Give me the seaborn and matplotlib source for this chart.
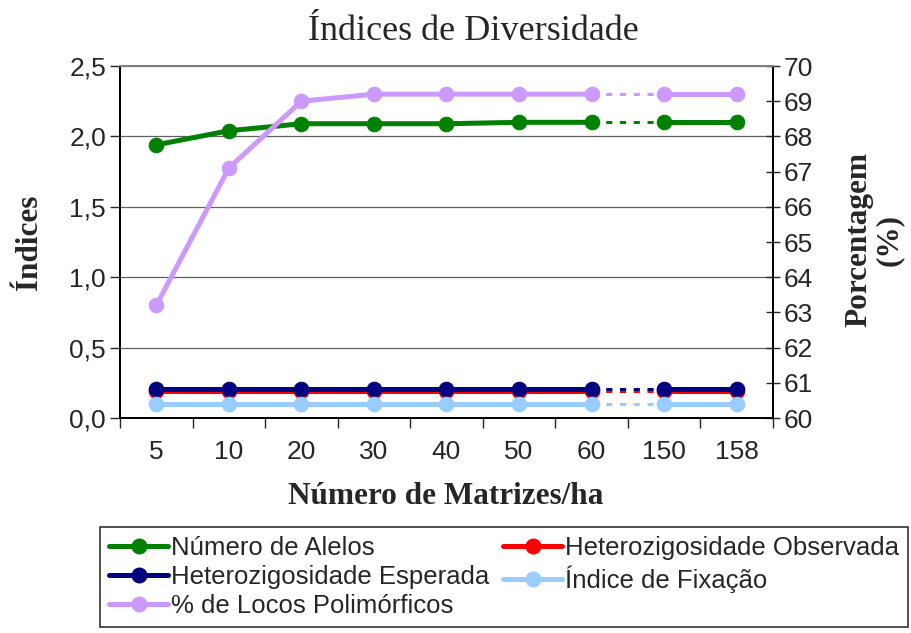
import numpy as np
import pandas as pd
import matplotlib
matplotlib.use("Agg")
import matplotlib.pyplot as plt
from matplotlib.lines import Line2D
from matplotlib.ticker import FuncFormatter, FixedLocator
import seaborn as sns

# ==========================================================
# DATA
# ==========================================================

categories = ["5", "10", "20", "30", "40", "50", "60", "150", "158"]

num_alelos = [1.94, 2.04, 2.09, 2.09, 2.09, 2.10, 2.10, 2.10, 2.10]
het_observada = [0.195, 0.195, 0.195, 0.195, 0.195, 0.195, 0.195, 0.195, 0.195]
het_esperada = [0.205, 0.205, 0.205, 0.205, 0.205, 0.205, 0.205, 0.205, 0.205]
indice_fixacao = [0.10, 0.10, 0.10, 0.10, 0.10, 0.10, 0.10, 0.10, 0.10]
locos_polimorficos = [63.2, 67.1, 69.0, 69.2, 69.2, 69.2, 69.2, 69.2, 69.2]

series_names = [
    "Número de Alelos",
    "Heterozigosidade Observada",
    "Heterozigosidade Esperada",
    "Índice de Fixação",
    "% de Locos Polimórficos",
]
series_colors = ["#008000", "#FF0000", "#000080", "#99CCFF", "#CC99FF"]

# break between "60" and "150" drawn dotted
gap_after = 6

# ==========================================================
# FIGURE
# ==========================================================

sns.set_style("white")
plt.rcParams["font.family"] = ["Liberation Sans", "DejaVu Sans"]
serif = ["Liberation Serif", "DejaVu Serif"]

fig = plt.figure(figsize=(9.11, 6.33), dpi=100)
ax = fig.add_axes([120 / 911, 1 - 418 / 633, 653 / 911, 352 / 633])
ax2 = ax.twinx()

pos = np.arange(len(categories))


def draw_series(axis, values, color):
    df = pd.DataFrame({"pos": pos, "val": values})
    first = df.iloc[: gap_after + 1]
    second = df.iloc[gap_after + 1:]
    bridge = df.iloc[gap_after: gap_after + 2]
    for part in [first, second]:
        sns.lineplot(
            data=part, x="pos", y="val", ax=axis, color=color,
            linewidth=3.6, marker="o", markersize=10.5,
            markeredgecolor=color, estimator=None, legend=False,
        )
    sns.lineplot(
        data=bridge, x="pos", y="val", ax=axis, color=color,
        linewidth=2.2, linestyle=(0, (2, 2.5)), estimator=None, legend=False,
    )


left_series = [num_alelos, het_observada, het_esperada, indice_fixacao]
for vals, col in zip(left_series, series_colors[:4]):
    draw_series(ax, vals, col)

draw_series(ax2, locos_polimorficos, series_colors[4])

# ==========================================================
# AXES
# ==========================================================

ax.set_xlim(-0.5, len(categories) - 0.5)
ax.set_ylim(0, 2.5)
ax2.set_ylim(60, 70)

ax.set_yticks(np.arange(0, 2.51, 0.5))
ax.yaxis.set_major_formatter(FuncFormatter(lambda v, p: f"{v:.1f}".replace(".", ",")))
ax2.set_yticks(np.arange(60, 71, 1))

ax.set_xticks(pos)
ax.set_xticklabels(categories)
ax.xaxis.set_minor_locator(FixedLocator(np.arange(-0.5, len(categories), 1)))
ax.tick_params(axis="x", which="major", length=0, labelsize=19, pad=16)
ax.tick_params(axis="x", which="minor", length=7, width=1, direction="out", bottom=True)
ax.tick_params(axis="y", length=7, width=1, direction="out", left=True, labelsize=19, pad=3)
ax2.tick_params(axis="y", length=10, width=1, direction="inout", right=True, labelsize=19, pad=3)

ax.grid(axis="y", color="#606060", linewidth=0.9)
ax.grid(axis="x", visible=False)
ax2.grid(False)

for a in [ax, ax2]:
    for sp in a.spines.values():
        sp.set_color("black")
        sp.set_linewidth(1.4)
ax.spines["top"].set_color("#808080")
ax2.spines["top"].set_color("#808080")

ax.set_xlabel("")
ax.set_ylabel("")
ax2.set_xlabel("")
ax2.set_ylabel("")

fig.text(473 / 911, 1 - 32 / 633, "Índices de Diversidade", ha="center", va="center",
         fontsize=26, family=serif)
fig.text(446 / 911, 1 - 497 / 633, "Número de Matrizes/ha", ha="center", va="center",
         fontsize=22.5, fontweight="bold", family=serif)
fig.text(30 / 911, 1 - 242 / 633, "Índices", ha="center", va="center", rotation=90,
         fontsize=22.5, fontweight="bold", family=serif)
fig.text(874 / 911, 1 - 240 / 633, "Porcentagem\n(%)", ha="center", va="center", rotation=90,
         fontsize=22.5, fontweight="bold", family=serif, linespacing=1.05)

# ==========================================================
# LEGEND
# ==========================================================

handles = [
    Line2D([0], [0], color=c, linewidth=3.6, marker="o", markersize=10.5, markeredgecolor=c)
    for c in series_colors
]
# row-wise order in a column-major legend
order = [0, 2, 4, 1, 3]
leg = fig.legend(
    [handles[i] for i in order], [series_names[i] for i in order],
    loc="upper left", ncol=2, mode="expand",
    bbox_to_anchor=(100 / 911, 1 - 527 / 633 - 0.2, 808 / 911, 0.2), fontsize=18.5,
    frameon=True, fancybox=False, edgecolor="black", borderaxespad=0,
    handlelength=2.3, handletextpad=0.1, columnspacing=1.2,
    labelspacing=0.2, borderpad=0.35,
)
leg.get_frame().set_linewidth(1.2)

plt.savefig("out.png", dpi=100)
